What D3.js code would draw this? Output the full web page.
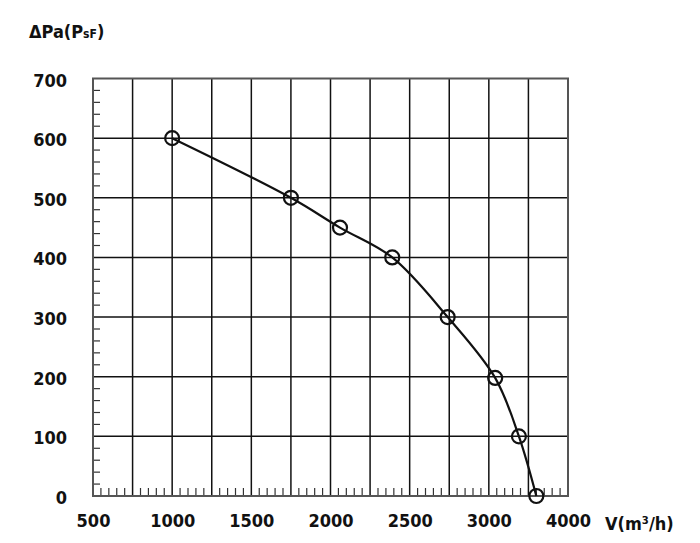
<!DOCTYPE html>
<html>
<head>
<meta charset="utf-8">
<script src="https://cdn.jsdelivr.net/npm/d3@7"></script>
<style>
  body { margin: 0; background: #fff; }
  text { font-family: "DejaVu Sans Condensed", "DejaVu Sans", sans-serif; font-weight: bold; fill: #111; }
</style>
</head>
<body>
<div id="chart"></div>
<script>
// fan curve
var flow = [1000, 1750, 2060, 2390, 2740, 3040, 3190, 3300];
var pressure = [600, 500, 450, 400, 300, 198, 100, 0];

var xTickValues = [500, 1000, 1500, 2000, 2500, 3000, 3500];
var xTickLabels = ["500", "1000", "1500", "2000", "2500", "3000", "4000"];
var yTickValues = [0, 100, 200, 300, 400, 500, 600, 700];
var yTickLabels = ["0", "100", "200", "300", "400", "500", "600", "700"];

var W = 700, H = 543;
var plotLeft = 93, plotRight = 568, plotTop = 78.5, plotBottom = 496;

var svg = d3.select("#chart").append("svg")
  .attr("width", W)
  .attr("height", H);

var xx = d3.scaleLinear().domain([500, 3500]).range([plotLeft, plotRight]);
var yy = d3.scaleLinear().domain([0, 700]).range([plotBottom, plotTop]);

// minor ticks (left and bottom)
svg.append("g").selectAll("line")
  .data(d3.range(0, 701, 20).filter(function(d) { return d % 100 != 0; }))
  .enter().append("line")
  .attr("x1", plotLeft).attr("x2", plotLeft + 7)
  .attr("y1", function(d) { return yy(d); })
  .attr("y2", function(d) { return yy(d); })
  .attr("stroke", "#333").attr("stroke-width", 1.2);

svg.append("g").selectAll("line")
  .data(d3.range(500, 3501, 50).filter(function(d) { return d % 250 != 0; }))
  .enter().append("line")
  .attr("x1", function(d) { return xx(d); })
  .attr("x2", function(d) { return xx(d); })
  .attr("y1", plotBottom).attr("y2", plotBottom - 8)
  .attr("stroke", "#333").attr("stroke-width", 1.2);

// grid
svg.append("g").selectAll("line")
  .data(d3.range(750, 3500, 250))
  .enter().append("line")
  .attr("x1", function(d) { return xx(d); })
  .attr("x2", function(d) { return xx(d); })
  .attr("y1", plotTop).attr("y2", plotBottom)
  .attr("stroke", "#111").attr("stroke-width", 1.5);

svg.append("g").selectAll("line")
  .data(d3.range(100, 700, 100))
  .enter().append("line")
  .attr("x1", plotLeft).attr("x2", plotRight)
  .attr("y1", function(d) { return yy(d); })
  .attr("y2", function(d) { return yy(d); })
  .attr("stroke", "#111").attr("stroke-width", 1.5);

// frame
svg.append("rect")
  .attr("x", plotLeft).attr("y", plotTop)
  .attr("width", plotRight - plotLeft).attr("height", plotBottom - plotTop)
  .attr("fill", "none").attr("stroke", "#555").attr("stroke-width", 2);

// tick labels via d3 axes (no lines)
var xAxis = svg.append("g")
  .attr("transform", "translate(0," + plotBottom + ")")
  .call(d3.axisBottom(xx).tickValues(xTickValues).tickSize(0).tickPadding(18)
    .tickFormat(function(d, i) { return xTickLabels[i]; }));
xAxis.select(".domain").remove();
xAxis.selectAll("text").attr("font-size", 18).attr("font-family", null).attr("fill", "#111");

var yAxis = svg.append("g")
  .attr("transform", "translate(" + (plotLeft - 26) + ",0)")
  .call(d3.axisLeft(yy).tickValues(yTickValues).tickSize(0).tickPadding(0)
    .tickFormat(function(d, i) { return yTickLabels[i]; }));
yAxis.select(".domain").remove();
yAxis.selectAll("text").attr("font-size", 18).attr("font-family", null)
  .attr("fill", "#111").attr("dy", "0.42em");

// titles
var yTitle = svg.append("text").attr("x", 29).attr("y", 38).attr("font-size", 18);
yTitle.append("tspan").text("\u0394Pa(P");
yTitle.append("tspan").attr("font-size", 12).text("sF");
yTitle.append("tspan").text(")");

svg.append("text").attr("x", 605).attr("y", 530).attr("font-size", 18)
  .text("V(m\u00b3/h)");

// curve
var pts = flow.map(function(f, i) { return {v: f, p: pressure[i]}; });

svg.append("path")
  .datum(pts)
  .attr("fill", "none")
  .attr("stroke", "#111")
  .attr("stroke-width", 2.2)
  .attr("d", d3.line()
    .curve(d3.curveCatmullRom.alpha(0.5))
    .x(function(d) { return xx(d.v); })
    .y(function(d) { return yy(d.p); }));

svg.append("g").selectAll("circle")
  .data(pts)
  .enter().append("circle")
  .attr("cx", function(d) { return xx(d.v); })
  .attr("cy", function(d) { return yy(d.p); })
  .attr("r", 7)
  .attr("fill", "none")
  .attr("stroke", "#111")
  .attr("stroke-width", 2.2);
</script>
</body>
</html>
